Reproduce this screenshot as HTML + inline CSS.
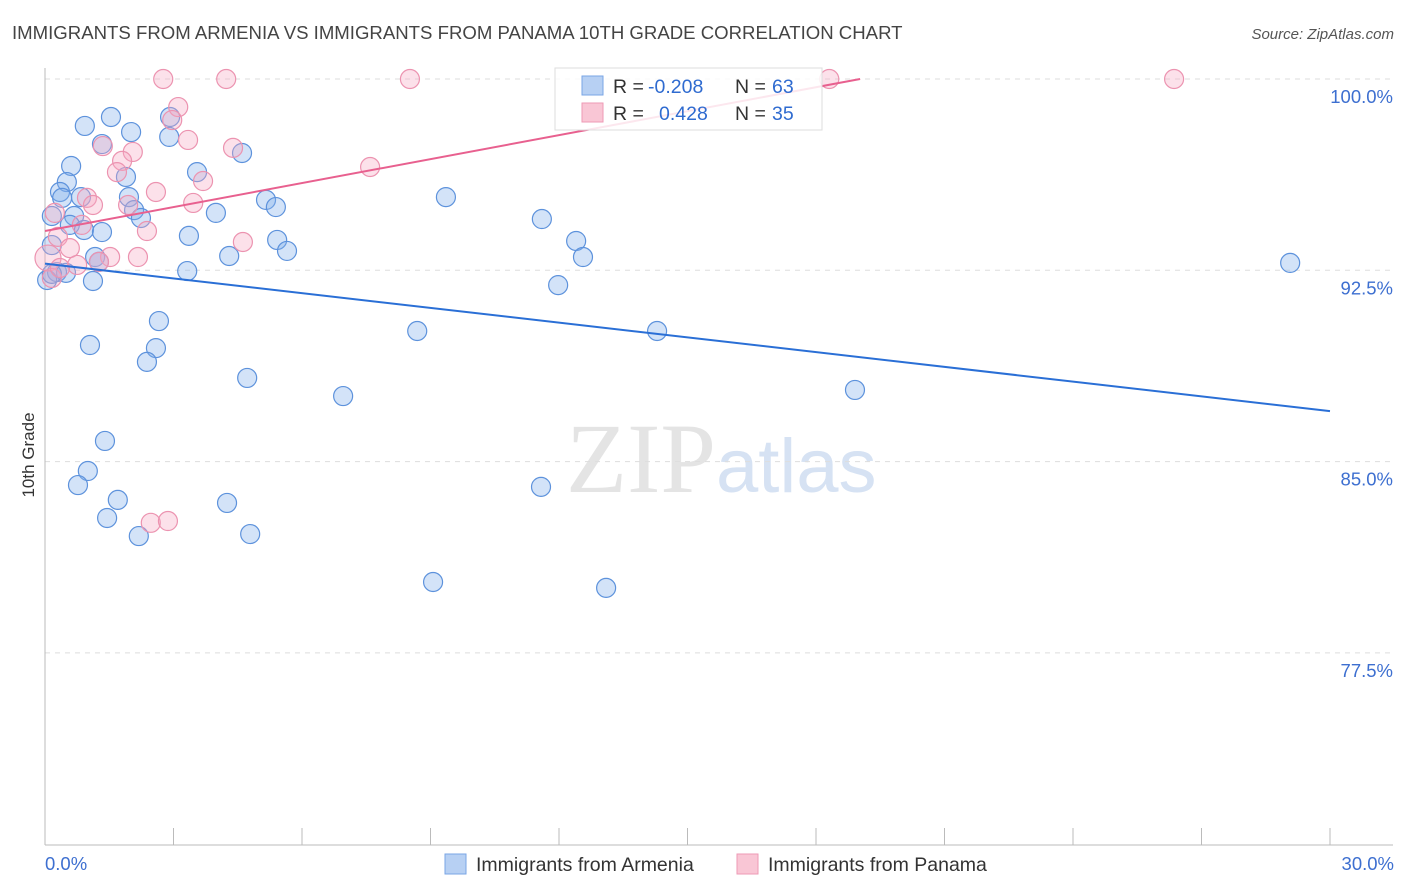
<!DOCTYPE html>
<html><head><meta charset="utf-8"><style>
body{margin:0;background:#fff;font-family:"Liberation Sans",sans-serif}
svg{display:block}
</style></head><body>
<svg id="chart" width="1406" height="892" xmlns="http://www.w3.org/2000/svg">
<text x="12" y="39" font-size="18.6" fill="#444">IMMIGRANTS FROM ARMENIA VS IMMIGRANTS FROM PANAMA 10TH GRADE CORRELATION CHART</text>
<text x="1394" y="39" font-size="15" fill="#555" font-style="italic" text-anchor="end">Source: ZipAtlas.com</text>
<text x="716" y="492" font-size="100" fill="#e4e4e4" text-anchor="end" font-family="Liberation Serif,serif">ZIP</text>
<text x="716" y="492" font-size="76" fill="#d6e2f3">atlas</text>
<g id="grid"></g>
<g id="axes"></g>
<g id="pts"></g>
<g id="lines"></g>
<g>
<rect x="555" y="68" width="267" height="62" fill="#fff" fill-opacity="0.85" stroke="#ddd"/>
<rect x="582" y="76" width="21" height="19" fill="#b7d0f3" stroke="#7aa6e6"/>
<rect x="582" y="103" width="21" height="19" fill="#f9c6d5" stroke="#ee9ab5"/>
<text x="613" y="93" font-size="19.5" fill="#333">R =</text>
<text x="648" y="93" font-size="19.5" fill="#2f6bd0">-0.208</text>
<text x="735" y="93" font-size="19.5" fill="#333">N =</text>
<text x="772" y="93" font-size="19.5" fill="#2f6bd0">63</text>
<text x="613" y="120" font-size="19.5" fill="#333">R =</text>
<text x="659" y="120" font-size="19.5" fill="#2f6bd0">0.428</text>
<text x="735" y="120" font-size="19.5" fill="#333">N =</text>
<text x="772" y="120" font-size="19.5" fill="#2f6bd0">35</text>
</g>
<text x="34" y="455" font-size="17" fill="#333" text-anchor="middle" transform="rotate(-90 34 455)">10th Grade</text>
<text x="45" y="870" font-size="18.5" fill="#3d6fd0">0.0%</text>
<text x="1394" y="870" font-size="18.5" fill="#3d6fd0" text-anchor="end">30.0%</text>
<g><rect x="445" y="854" width="21" height="20" fill="#b7d0f3" stroke="#7aa6e6"/><text x="476" y="871" font-size="19.5" fill="#333">Immigrants from Armenia</text></g>
<g><rect x="737" y="854" width="21" height="20" fill="#f9c6d5" stroke="#ee9ab5"/><text x="768" y="871" font-size="19.5" fill="#333">Immigrants from Panama</text></g>
</svg>
<script>
const yTicks=[100,92.5,85,77.5];
const yTickLabels=["100.0%","92.5%","85.0%","77.5%"];
const blueX=[1.54,0.93,2.01,2.92,2.90,1.33,0.61,0.51,0.35,0.40,0.84,1.89,1.96,3.55,4.60,2.08,2.24,3.99,5.16,5.39,9.36,11.60,0.16,0.68,0.58,0.91,1.33,3.36,5.42,5.65,4.30,1.17,1.26,0.16,0.28,0.49,0.05,0.16,1.12,3.32,12.40,12.56,11.98,29.07,2.66,8.69,14.29,1.05,2.59,2.38,4.72,6.96,18.91,1.40,1.00,0.77,1.70,4.25,1.45,11.58,2.19,4.79,9.06,13.10];
const blueY=[98.51,98.16,97.92,98.51,97.73,97.45,96.59,95.96,95.57,95.34,95.37,96.16,95.37,96.35,97.10,94.86,94.55,94.75,95.26,94.98,95.37,94.51,94.63,94.63,94.28,94.08,94.00,93.85,93.69,93.26,93.06,93.02,92.83,93.49,92.43,92.40,92.12,92.36,92.08,92.47,93.65,93.02,91.92,92.79,90.51,90.12,90.12,89.57,89.45,88.91,88.28,87.57,87.81,85.81,84.63,84.08,83.50,83.38,82.79,84.01,82.08,82.16,80.28,80.05];
const pinkX=[2.76,4.23,8.52,18.31,26.36,3.11,2.97,3.34,1.35,4.39,2.05,1.80,7.59,1.68,3.69,2.59,0.98,1.12,1.94,3.46,0.23,0.86,2.38,4.62,0.30,0.58,0.07,1.52,2.17,1.26,0.75,0.16,2.47,2.87,0.35];
const pinkY=[100,100,100,100,100,98.90,98.39,97.61,97.37,97.30,97.14,96.79,96.55,96.35,96.00,95.57,95.34,95.06,95.06,95.14,94.75,94.28,94.04,93.61,93.81,93.37,92.98,93.02,93.02,92.83,92.71,92.20,82.60,82.67,92.59];
const blueTrend=[92.76,86.98];
const pinkTrend=[94.04,100];
const pinkTrendEndX=19.03;
const X0=45,X1=1330,Y100=79,PX_PER=191.3/7.5;
const sx=v=>X0+(v/30)*(X1-X0);
const sy=v=>Y100+(100-v)*PX_PER;
const NS="http://www.w3.org/2000/svg";
function mk(tag,attrs,parent){const e=document.createElementNS(NS,tag);for(const k in attrs)e.setAttribute(k,attrs[k]);parent.appendChild(e);return e;}
const grid=document.getElementById('grid');
yTicks.forEach((t,i)=>{
 const l=mk('line',{x1:45,x2:1393,y1:sy(t),y2:sy(t),stroke:'#ddd','stroke-dasharray':'5,5'},grid);
 
 
 const tx=mk('text',{x:1393,y:sy(t)+24,'font-size':18.5,fill:'#3d6fd0','text-anchor':'end'},grid);
 tx.textContent=yTickLabels[i];
 
 
});
const axes=document.getElementById('axes');
const la=mk('line',{x1:45,x2:45,y1:68,y2:845,stroke:'#bbb'},axes);


const ba=mk('line',{x1:45,x2:1393,y1:845,y2:845,stroke:'#bbb'},axes);


for(let i=0;i<=10;i++){
 const t=mk('line',{x1:sx(i*3),x2:sx(i*3),y1:828,y2:845,stroke:'#bbb'},axes);
 
 
}
const pts=document.getElementById('pts');
blueX.forEach((x,i)=>{
 const c=mk('circle',{cx:sx(x),cy:sy(blueY[i]),r:9.5,fill:'rgba(130,175,235,0.35)',stroke:'#5d92dc','stroke-width':1.2},pts);
 
 
});
pinkX.forEach((x,i)=>{
 const c=mk('circle',{cx:sx(x),cy:sy(pinkY[i]),r:i==26?13:9.5,fill:'rgba(245,170,195,0.35)',stroke:'#ec93b0','stroke-width':1.2},pts);
 
 
});
const lines=document.getElementById('lines');
const bl=mk('line',{x1:sx(0),y1:sy(blueTrend[0]),x2:sx(30),y2:sy(blueTrend[1]),stroke:'#2a6fd6','stroke-width':2},lines);


const pl=mk('line',{x1:sx(0),y1:sy(pinkTrend[0]),x2:sx(pinkTrendEndX),y2:sy(pinkTrend[1]),stroke:'#e8608f','stroke-width':2},lines);


</script>
</body></html>
